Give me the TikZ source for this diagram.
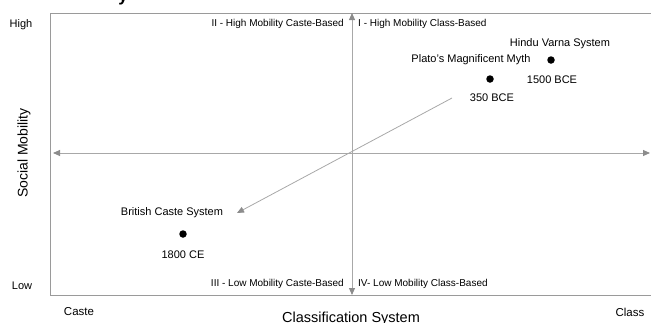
\documentclass[tikz,border=0pt]{standalone}
\usepackage{fontspec}
\setmainfont{Liberation Sans}
\usetikzlibrary{arrows.meta}
\definecolor{axisgray}{HTML}{A8A8A8}
\definecolor{boxgray}{HTML}{9A9A9A}
\definecolor{tipgray}{HTML}{8C8C8C}
\begin{document}
\begin{tikzpicture}[x=1pt,y=-1pt,
  axis/.style={draw=axisgray,line width=0.9pt,{Triangle[length=7pt,width=6pt,color=tipgray]}-{Triangle[length=7pt,width=6pt,color=tipgray]}},
  frame/.style={draw=boxgray,line width=1pt},
  diag/.style={draw=axisgray,line width=0.8pt,-{Triangle[length=7pt,width=6pt,color=tipgray]}},
  dot/.style={circle,fill=black,inner sep=0pt,minimum size=7.5pt},
  lbl/.style={font=\fontsize{11}{13}\selectfont,inner sep=0pt},
  quad/.style={font=\fontsize{10}{12}\selectfont,inner sep=0pt},
  side/.style={font=\fontsize{11}{13}\selectfont,inner sep=0pt},
  ends/.style={font=\fontsize{11.5}{13}\selectfont,inner sep=0pt}]
\useasboundingbox (0,0) rectangle (651,322);
% cut-off title fragment
\node[font=\bfseries\fontsize{17}{20}\selectfont,anchor=base,inner sep=0pt] (title) at (123,1) {y};
% frame
\coordinate (tl) at (50,13);
\coordinate (bl) at (50,295);
\coordinate (tr) at (652,13);
\coordinate (br) at (652,295);
\draw[frame] (tr) -- (tl) -- (bl) -- (br);
% axes
\coordinate (xl) at (53,153);
\coordinate (xr) at (650,153);
\coordinate (yt) at (352,13);
\coordinate (yb) at (352,295);
\draw[axis] (xl) -- (xr);
\draw[axis] (yt) -- (yb);
% quadrant labels
\node[quad,anchor=east] (q2) at (344,24) {II - High Mobility Caste-Based};
\node[quad,anchor=west] (q1) at (358,24) {I - High Mobility Class-Based};
\node[quad,anchor=east] (q3) at (344,284) {III - Low Mobility Caste-Based};
\node[quad,anchor=west] (q4) at (358,284) {IV- Low Mobility Class-Based};
% side labels
\node[side] (high) at (21,25) {High};
\node[side] (low) at (22,286) {Low};
\node[font=\fontsize{14}{16}\selectfont,rotate=90,inner sep=0pt] (sm) at (24,153) {Social Mobility};
\node[ends] (caste) at (79,312) {Caste};
\node[ends] (class) at (630,312) {Class};
\node[font=\fontsize{14.5}{16}\selectfont,inner sep=0pt] (cs) at (351,319) {Classification System};
% data points
\node[lbl] (hinduT) at (560,44) {Hindu Varna System};
\node[dot] (hindu) at (551,60) {};
\node[lbl] (hinduD) at (552,80) {1500 BCE};
\node[lbl] (platoT) at (471,60) {Plato's Magnificent Myth};
\node[dot] (plato) at (490,79) {};
\node[lbl] (platoD) at (492,98) {350 BCE};
\node[lbl] (britT) at (172,213) {British Caste System};
\node[dot] (brit) at (183,234) {};
\node[lbl] (britD) at (183,255) {1800 CE};
% diagonal trend arrow
\coordinate (dstart) at (452,98);
\coordinate (dend) at (237,213);
\draw[diag] (dstart) -- (dend);
\end{tikzpicture}
\end{document}
